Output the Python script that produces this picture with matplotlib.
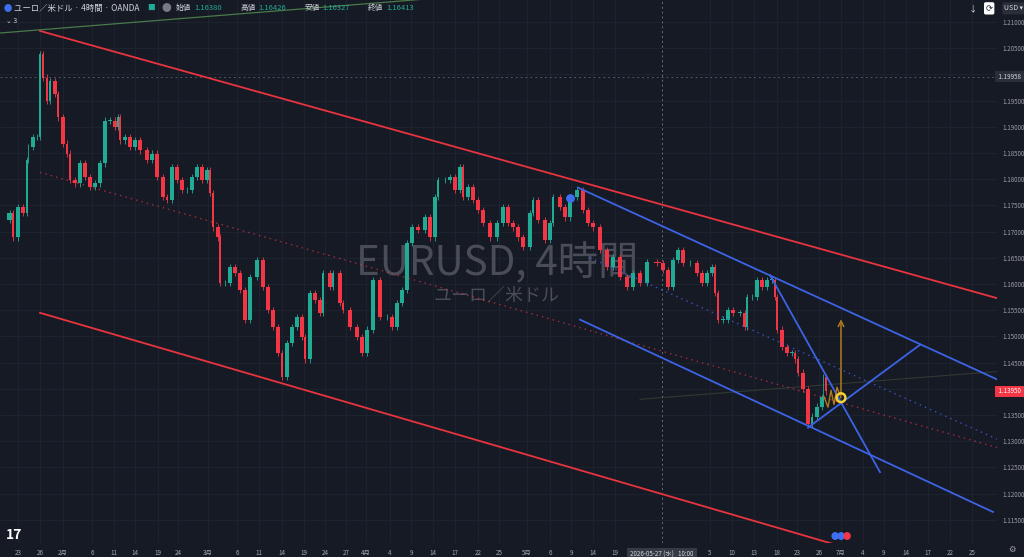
import matplotlib
matplotlib.use("Agg")
import matplotlib.pyplot as plt
from matplotlib.patches import Rectangle

plt.rcParams['font.family'] = ['Noto Sans CJK JP', 'DejaVu Sans']

# time positions (uniform bar-time scale) and closing prices
t1 = [0,10,13,18,23,27,28,33,37,40,43,47,50,55,58,63,67,70,75,80,85,90,95,100,105,110,115,118,120,125,130,135,140,147,152,157,163,167,172,177,182,187,192,197,202,207,210,213,218,220,225,230,235,240,245,250,257,263,268,273,278,282,287,292,297,302,305,310,315,320,323,330,333,340]
c1 = [1.1722,1.1735,1.1689,1.1747,1.1735,1.1836,1.1861,1.1880,1.1880,1.2039,1.1994,1.1950,1.1988,1.1963,1.1918,1.1868,1.1849,1.1798,1.1792,1.1830,1.1804,1.1785,1.1792,1.1830,1.1912,1.1912,1.1899,1.1918,1.1874,1.1880,1.1861,1.1874,1.1855,1.1836,1.1849,1.1804,1.1766,1.1760,1.1823,1.1798,1.1779,1.1779,1.1804,1.1823,1.1798,1.1817,1.1773,1.1708,1.1689,1.1602,1.1602,1.1632,1.1621,1.1589,1.1532,1.1613,1.1646,1.1594,1.1551,1.1518,1.1469,1.1423,1.1488,1.1518,1.1537,1.1499,1.1456,1.1583,1.1570,1.1545,1.1621,1.1594,1.1621,1.1564]
t2 = [343,350,357,362,367,373,380,387,392,397,402,407,412,418,425,430,435,438,445,450,455,460,463,468,473,478,483,490,497,503,508,513,518,523,530,533,538,545,550,553,560,565,570,577,583,588,593,600,607,613,620,627,633,640]
c2 = [1.1551,1.1518,1.1499,1.1469,1.1513,1.1608,1.1537,1.1537,1.1518,1.1564,1.1589,1.1678,1.1708,1.1703,1.1727,1.1689,1.1766,1.1798,1.1798,1.1804,1.1779,1.1823,1.1766,1.1785,1.1760,1.1741,1.1716,1.1689,1.1716,1.1747,1.1716,1.1708,1.1689,1.1670,1.1735,1.1760,1.1722,1.1684,1.1716,1.1766,1.1747,1.1727,1.1766,1.1779,1.1741,1.1716,1.1708,1.1665,1.1632,1.1651,1.1613,1.1594,1.1621,1.1602]
t3 = [647,657,663,668,673,678,683,690,697,702,707,712,715,718,723,728,733,740,745,747,752,757,762,767,772,775,777,782,787,792,795,798,803,808,812,817,822,823,826]
c3 = [1.1642,1.1640,1.1627,1.1594,1.1646,1.1665,1.1640,1.1640,1.1621,1.1602,1.1621,1.1632,1.1583,1.1532,1.1532,1.1551,1.1545,1.1545,1.1518,1.1575,1.1575,1.1608,1.1594,1.1608,1.1608,1.1575,1.1513,1.1480,1.1469,1.1469,1.1456,1.1431,1.1399,1.1332,1.1347,1.1366,1.1385,1.1423,1.1395]

# drawn trend lines: (t0, p0, t1, p1)
red_upper = (40, 1.2083, 997, 1.1573)
red_lower = (40, 1.1545, 833, 1.1104)
red_mid = (40, 1.1813, 997, 1.1288)
blue_upper = (578, 1.1784, 997, 1.1418)
blue_lower = (580, 1.1532, 993, 1.1165)
blue_steep = (770, 1.1617, 880, 1.1241)
blue_rise = (808, 1.1326, 920, 1.1484)
blue_mid = (590, 1.1650, 997, 1.1304)
green_top = (0, 1.2079, 420, 1.2143)
gray_faint = (640, 1.1380, 997, 1.1433)
proj_t = [824, 828, 831, 834, 837, 841]
proj_p = [1.1385, 1.1365, 1.1397, 1.1370, 1.1403, 1.1383]
arrow_t, arrow_p0, arrow_p1 = 841, 1.1383, 1.1538
marker_t, marker_p = 570, 1.1764
hline_p = 1.19958
last_p = 1.13950
cross_t = 662
wm_p1, wm_p2 = 1.1640, 1.1579

xt = [18,40,63,92,114,135,158,178,208,237,259,282,304,325,346,366,390,411,433,455,478,499,527,550,571,593,615,710,732,754,777,797,819,841,863,884,906,928,950,972]
xl = ['23','26','2月','6','11','14','19','24','3月','6','11','14','19','24','27','4月','4','9','14','17','22','25','5月','6','9','14','19','5','10','13','18','23','26','7月','4','9','14','17','22','25']
yt = [round(1.115 + 0.005*i, 3) for i in range(20)]

BG = '#161a25'
UP = '#22ab94'
DN = '#f23645'
RED = '#e8343f'
BLUE = '#3d63e6'

fig = plt.figure(figsize=(10.24, 5.57), dpi=100, facecolor=BG)
ax = fig.add_axes([0, 14/557, 997/1024, 543/557], facecolor=BG)
ax.set_xlim(0, 997)
ax.set_ylim(1.2142 - 543/5240, 1.2142)

for x in xt:
    ax.axvline(x, color='#1f2431', lw=0.6, zorder=0)
for y in yt:
    ax.axhline(y, color='#1f2431', lw=0.6, zorder=0)

ts = t1 + t2 + t3
cs = c1 + c2 + c3
for i in range(1, len(ts)):
    o, c = cs[i-1], cs[i]
    w = (ts[i] - ts[i-1]) * 0.7
    col = UP if c >= o else DN
    lo, hi = min(o, c), max(o, c)
    ax.vlines(ts[i], lo - 0.0006, hi + 0.0006, color=col, lw=0.6, zorder=2)
    ax.add_patch(Rectangle((ts[i] - w/2, lo), w, max(hi - lo, 0.00008), color=col, lw=0, zorder=3))

def seg(s, **kw):
    ax.plot([s[0], s[2]], [s[1], s[3]], **kw)

seg(red_upper, color=RED, lw=1.3, zorder=4)
seg(red_lower, color=RED, lw=1.3, zorder=4)
seg(red_mid, color=RED, lw=1.0, ls=(0, (1, 3)), alpha=0.7, zorder=4)
seg(green_top, color='#4a7a4a', lw=0.9, zorder=4)
seg(gray_faint, color='#2e3a30', lw=0.8, zorder=1)
for s in (blue_upper, blue_lower, blue_steep, blue_rise):
    seg(s, color=BLUE, lw=1.3, zorder=4)
seg(blue_mid, color=BLUE, lw=1.0, ls=(0, (1, 3)), alpha=0.8, zorder=4)

ax.plot(proj_t, proj_p, color='#b07a1e', lw=1.0, zorder=5)
ax.annotate('', xy=(arrow_t, arrow_p1), xytext=(arrow_t, arrow_p0),
            arrowprops=dict(arrowstyle='->', color='#b07a1e', lw=1.1), zorder=5)
ax.scatter([arrow_t], [arrow_p0], s=40, facecolors='none', edgecolors='#f5d033', linewidths=1.8, zorder=6)
ax.scatter([marker_t], [marker_p], s=28, color='#3f6ff0', zorder=6)

ax.axhline(hline_p, color='#50545e', lw=0.7, ls=(0, (2, 3)), zorder=1)
ax.axvline(cross_t, color='#6a6d78', lw=0.7, ls=(0, (2, 3)), zorder=1)

ax.text(497, wm_p1, 'EURUSD, 4時間', color='#4a4d57', fontsize=29, ha='center', va='center', zorder=1)
ax.text(497, wm_p2, 'ユーロ／米ドル', color='#4a4d57', fontsize=13, ha='center', va='center', zorder=1)

ax.set_xticks(xt)
ax.set_xticklabels(xl, fontsize=4.5, color='#a3a6af')
ax.set_yticks(yt)
labs = ax.set_yticklabels([f'{y:.5f}' for y in yt], fontsize=4.5, color='#9a9da6')
for y, lb in zip(yt, labs):
    if abs(round(y * 100) - y * 100) < 1e-6:
        lb.set_fontweight('bold')
        lb.set_color('#c8cbd3')
ax.yaxis.tick_right()
ax.tick_params(length=0, pad=4)
for sp in ax.spines.values():
    sp.set_visible(False)

# price labels
ax.text(1.0, hline_p, ' 1.19958 ', transform=ax.get_yaxis_transform(), fontsize=4.5, color='#d1d4dc',
        va='center', ha='left', bbox=dict(boxstyle='square,pad=0.25', fc='#2a2e39', ec='none'), clip_on=False, zorder=10)
ax.text(1.0, last_p, ' 1.13950 ', transform=ax.get_yaxis_transform(), fontsize=4.5, color='white',
        va='center', ha='left', bbox=dict(boxstyle='square,pad=0.25', fc=DN, ec='none'), clip_on=False, zorder=10)
ax.text(cross_t, -0.022, '2026-05-27 (水)   10:00', transform=ax.get_xaxis_transform(), fontsize=4.5,
        color='#d1d4dc', ha='center', va='center', bbox=dict(boxstyle='square,pad=0.5', fc='#363a45', ec='none'),
        clip_on=False, zorder=10)

# header
fig.text(0.004, 0.985, '●', color='#3f6ff0', fontsize=6, va='center')
fig.text(0.014, 0.985, 'ユーロ／米ドル · 4時間 · OANDA', color='#d1d4dc', fontsize=6, va='center')
fig.text(0.1435, 0.985, '■', color='#22ab94', fontsize=5.5, va='center')
fig.text(0.158, 0.985, '●', color='#787b86', fontsize=7, va='center')
x0 = 0.172
for lab, val in [('始値', '1.16380'), ('高値', '1.16426'), ('安値', '1.16327'), ('終値', '1.16413')]:
    fig.text(x0, 0.985, lab, color='#d1d4dc', fontsize=5.5, va='center')
    fig.text(x0 + 0.0175, 0.985, val, color='#22ab94', fontsize=5.5, va='center')
    x0 += 0.0625
fig.text(0.006, 0.962, '⌄ 3', color='#d1d4dc', fontsize=5, va='center')
fig.text(0.950, 0.985, '↓', color='#d1d4dc', fontsize=6, va='center', ha='center')
fig.text(0.966, 0.985, '⟳', color='#161a25', fontsize=6, va='center', ha='center',
         bbox=dict(boxstyle='round,pad=0.2', fc='white', ec='none'))
fig.text(0.990, 0.985, 'USD ▾', color='#d1d4dc', fontsize=5, va='center', ha='center',
         bbox=dict(boxstyle='round,pad=0.3', fc='#2a2e39', ec='none'))
fig.text(0.006, 0.04, '17', color='white', fontsize=10, fontweight='bold', va='center')
fig.text(0.988, 0.014, '⚙', color='#a3a6af', fontsize=6, va='center', ha='center')
for dx, col in [(0, '#3f6ff0'), (0.006, '#3f6ff0'), (0.012, '#f23645')]:
    fig.text(0.815 + dx, 0.036, '●', color=col, fontsize=6, va='center', ha='center')

fig.savefig('out.png', dpi=100, facecolor=BG)
